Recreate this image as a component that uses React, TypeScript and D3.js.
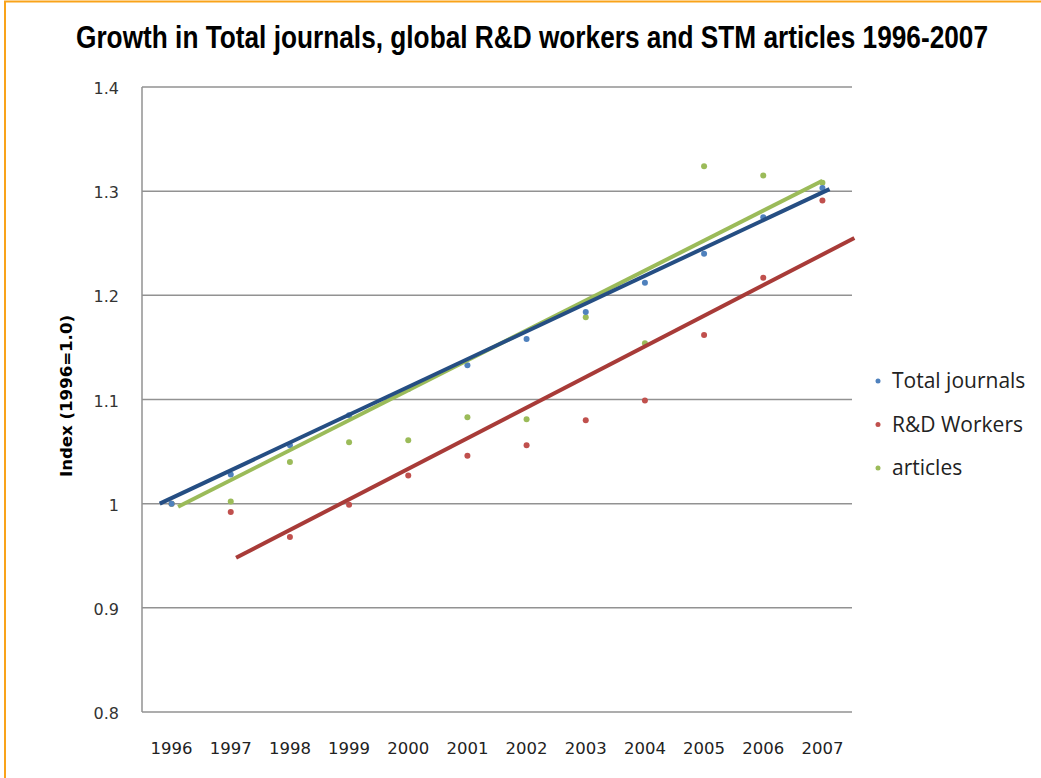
import React from "react";
import * as d3 from "d3";

const years = ["1996","1997","1998","1999","2000","2001","2002","2003","2004","2005","2006","2007"];
const totalJournals = [1.0, 1.028, 1.056, 1.085, 1.11, 1.133, 1.158, 1.184, 1.212, 1.24, 1.275, 1.303];
const rdWorkers = [1.0, 0.992, 0.968, 0.999, 1.027, 1.046, 1.056, 1.080, 1.099, 1.162, 1.217, 1.291];
const articles = [1.0, 1.002, 1.040, 1.059, 1.061, 1.083, 1.081, 1.179, 1.154, 1.324, 1.315, 1.308];
// trend lines: [yearIndex, value] endpoints
const trendJournals = [[-0.2, 1.0], [11.12, 1.302]];
const trendRD = [[1.09, 0.948], [11.54, 1.255]];
const trendArticles = [[0.11, 0.997], [11.0, 1.31]];
const yTicks = [0.8, 0.9, 1.0, 1.1, 1.2, 1.3, 1.4];
const yTickLabels = ["0.8", "0.9", "1", "1.1", "1.2", "1.3", "1.4"];
const seriesNames = ["Total journals", "R&D Workers", "articles"];

const W = 1041, H = 778;
const left = 142, right = 852, top = 87, bottom = 712;

export default function App() {
  const x = d3.scaleBand<string>().domain(years).range([left, right]);
  const bw = x.bandwidth();
  const xi = (i: number) => left + bw * (i + 0.5);
  const y = d3.scaleLinear().domain([0.8, 1.4]).range([bottom, top]);
  const line = d3.line<number[]>().x(d => xi(d[0])).y(d => y(d[1]));

  const series = [
    { name: seriesNames[0], data: totalJournals, trend: trendJournals, pt: "#4F81BD", ln: "#254E83" },
    { name: seriesNames[1], data: rdWorkers, trend: trendRD, pt: "#C0504D", ln: "#A83B38" },
    { name: seriesNames[2], data: articles, trend: trendArticles, pt: "#9BBB59", ln: "#9BBB59" },
  ];
  const drawOrder = [1, 2, 0];

  return (
    <svg width={W} height={H} style={{ position: "absolute", left: 0, top: 0, background: "#fff" }}>
      <rect x={5} y={1.5} width={W + 10} height={H + 10} fill="none" stroke="#F9A31A" strokeWidth={2} />
      <g transform="translate(532,48) scale(1,1.19)">
        <text x={0} y={0} textAnchor="middle" textLength={912} lengthAdjust="spacingAndGlyphs" fontFamily="'Liberation Sans', Arial, sans-serif" fontWeight="bold" fontSize={26} fill="#000">
          Growth in Total journals, global R&amp;D workers and STM articles 1996-2007
        </text>
      </g>
      {yTicks.map((t, i) => (
        <g key={i}>
          <line x1={left} x2={right} y1={y(t)} y2={y(t)} stroke="#929292" strokeWidth={1.5} />
          <text x={119} y={y(t) + 7} textAnchor="end" fontFamily="'DejaVu Sans', sans-serif" fontSize={16} fill="#333">{yTickLabels[i]}</text>
        </g>
      ))}
      <line x1={left} x2={left} y1={top} y2={bottom} stroke="#929292" strokeWidth={1.5} />
      {years.map((yr, i) => (
        <text key={yr} x={xi(i)} y={754} textAnchor="middle" fontFamily="'DejaVu Sans', sans-serif" fontSize={16.5} fill="#222">{yr}</text>
      ))}
      <text transform={`translate(72,396) rotate(-90)`} textAnchor="middle" textLength={162} lengthAdjust="spacingAndGlyphs" fontFamily="'DejaVu Sans', sans-serif" fontWeight="bold" fontSize={15} fill="#000">Index (1996=1.0)</text>
      {drawOrder.map(k => {
        const s = series[k];
        return (
          <g key={s.name}>
            {s.data.map((v, i) => (
              <circle key={i} cx={xi(i)} cy={y(v)} r={3} fill={s.pt} />
            ))}
          </g>
        );
      })}
      {drawOrder.map(k => {
        const s = series[k];
        return <path key={s.name} d={line(s.trend) || ""} fill="none" stroke={s.ln} strokeWidth={4} />;
      })}
      {series.map((s, i) => (
        <g key={s.name}>
          <circle cx={878} cy={381 + i * 43.5} r={2.5} fill={s.pt} />
          <text x={892} y={388 + i * 43.5} fontFamily="'Open Sans', sans-serif" fontSize={21} fill="#222">{s.name}</text>
        </g>
      ))}
    </svg>
  );
}
